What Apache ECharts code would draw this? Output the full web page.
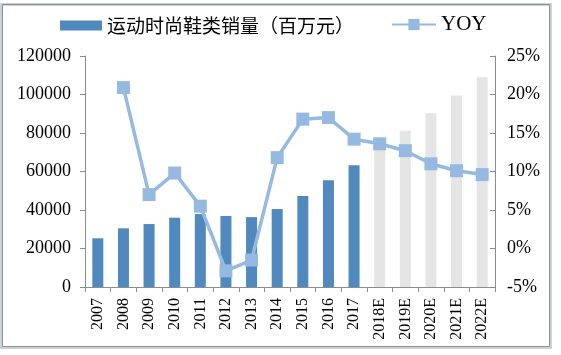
<!DOCTYPE html>
<html>
<head>
<meta charset="utf-8">
<script src="https://cdn.jsdelivr.net/npm/echarts@6/dist/echarts.min.js"></script>
<style>
html,body{margin:0;padding:0;background:#fff;}
#chart{width:561px;height:355px;}
</style>
</head>
<body>
<div id="chart"></div>
<script>
const categories = ['2007','2008','2009','2010','2011','2012','2013','2014','2015','2016','2017','2018E','2019E','2020E','2021E','2022E'];
const sales = [25300, 30500, 32700, 36000, 37900, 36900, 36300, 40500, 47300, 55400, 63200, 72000, 81200, 90300, 99500, 108900];
const yoy = [null, 20.9, 7.0, 9.8, 5.5, -2.9, -1.5, 11.8, 16.8, 17.0, 14.2, 13.6, 12.7, 11.0, 10.1, 9.6];
const leftTicks = {min: 0, max: 120000, interval: 20000};
const rightTicks = {min: -5, max: 25, interval: 5};
const barName = '运动时尚鞋类销量（百万元）';
const lineName = 'YOY';

const barColor = '#4F89BD';
const forecastColor = '#E5E5E5';
const lineColor = '#95B9E1';
const axisColor = '#8C8C8C';
const serif = '"Liberation Serif", "Times New Roman", serif';

const chart = echarts.init(document.getElementById('chart'), null, {renderer: 'canvas'});
chart.setOption({
  animation: false,
  backgroundColor: '#fff',
  graphic: [
    {type: 'rect', shape: {x: 1.5, y: 4.5, width: 549, height: 343}, style: {fill: 'none', stroke: '#C9D1DB', lineWidth: 3}},
    {type: 'rect', shape: {x: 2.5, y: 4.5, width: 547, height: 342}, style: {fill: 'none', stroke: '#8E8E8E', lineWidth: 1}}
  ],
  legend: [
    {
      data: [barName],
      left: 55, top: 11,
      itemWidth: 42, itemHeight: 10, itemGap: 0,
      icon: 'rect',
      textStyle: {fontFamily: '"Noto Sans CJK SC", sans-serif', fontSize: 19, color: '#000'},
      selectedMode: false
    },
    {
      data: [lineName],
      left: 386, top: 9,
      itemWidth: 44, itemHeight: 14,
      textStyle: {fontFamily: serif, fontSize: 21, color: '#000'},
      selectedMode: false
    }
  ],
  grid: {left: 85, right: 66, top: 56, bottom: 68, containLabel: false},
  xAxis: {
    type: 'category',
    data: categories,
    axisLine: {lineStyle: {color: axisColor, width: 1}},
    axisTick: {show: true, alignWithLabel: false, length: 5, lineStyle: {color: axisColor}},
    axisLabel: {rotate: 90, margin: 11, fontFamily: serif, fontSize: 16, color: '#000', interval: 0},
    splitLine: {show: false}
  },
  yAxis: [
    {
      type: 'value',
      min: leftTicks.min, max: leftTicks.max, interval: leftTicks.interval,
      axisLine: {show: true, lineStyle: {color: axisColor}},
      axisTick: {show: true, length: 5, lineStyle: {color: axisColor}},
      axisLabel: {margin: 14, fontFamily: serif, fontSize: 18, color: '#000', formatter: v => String(v)},
      splitLine: {show: false}
    },
    {
      type: 'value',
      position: 'right',
      min: rightTicks.min, max: rightTicks.max, interval: rightTicks.interval,
      axisLine: {show: true, lineStyle: {color: axisColor}},
      axisTick: {show: true, inside: true, length: 5, lineStyle: {color: axisColor}},
      axisLabel: {margin: 12, fontFamily: serif, fontSize: 18, color: '#000', formatter: v => v + '%'},
      splitLine: {show: false}
    }
  ],
  series: [
    {
      name: barName,
      type: 'bar',
      barWidth: 11,
      itemStyle: {color: barColor},
      data: sales.map((v, i) => ({
        value: v,
        itemStyle: {color: categories[i].endsWith('E') ? forecastColor : barColor}
      })),
      z: 2
    },
    {
      name: lineName,
      type: 'line',
      yAxisIndex: 1,
      data: yoy.map(v => v === null ? '-' : v),
      symbol: 'rect',
      symbolSize: 13,
      itemStyle: {color: lineColor},
      lineStyle: {color: lineColor, width: 3.5},
      z: 3
    }
  ]
});
</script>
</body>
</html>
